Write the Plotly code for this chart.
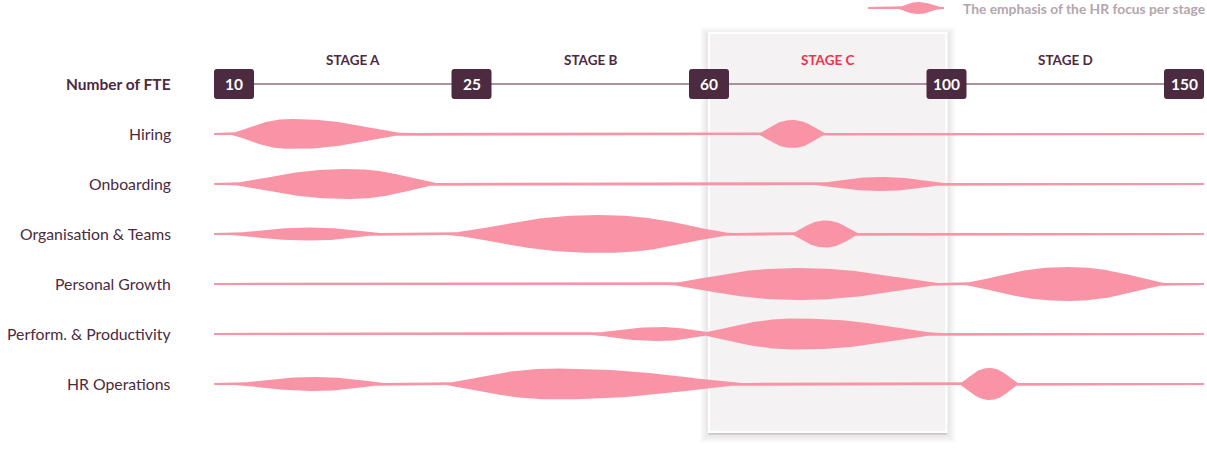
import numpy as np
import plotly.graph_objects as go

# ---------------- data ----------------
fte_ticks = ["10", "25", "60", "100", "150"]
stage_names = ["STAGE A", "STAGE B", "STAGE C", "STAGE D"]
highlight_stage = "STAGE C"
rows = ["Hiring", "Onboarding", "Organisation & Teams", "Personal Growth",
        "Perform. & Productivity", "HR Operations"]

# blobs per row, positions in stage units (0 = 10 FTE, 1 = 25, 2 = 60, 3 = 100, 4 = 150)
# each blob: (start, peak, end, emphasis)
hiring_blobs = [(-0.05, 0.24, 0.78, 0.30), (2.19, 2.35, 2.51, 0.28)]
onboarding_blobs = [(-0.08, 0.48, 0.91, 0.30), (2.40, 2.72, 3.05, 0.14)]
organisation_blobs = [(-0.08, 0.32, 0.67, 0.13), (0.82, 1.54, 2.17, 0.38), (2.33, 2.49, 2.65, 0.27)]
growth_blobs = [(1.76, 2.37, 3.06, 0.32), (3.01, 3.51, 3.98, 0.34)]
perform_blobs = [(1.45, 1.79, 2.06, 0.14), (1.90, 2.37, 3.05, 0.31)]
hrops_blobs = [(-0.06, 0.34, 0.69, 0.14), (0.82, 1.36, 2.26, 0.31), (3.04, 3.18, 3.32, 0.32)]
row_blobs = [hiring_blobs, onboarding_blobs, organisation_blobs, growth_blobs,
             perform_blobs, hrops_blobs]
legend_blob = [(2.78, 2.88, 2.99, 0.12)]
legend_text = "The emphasis of the HR focus per stage"

# ---------------- styling ----------------
PINK = "#F894A6"
PLUM = "#4C2A40"
AXIS_GREY = "#A8939F"
RED = "#F0304F"
FONT = "Lato"
PX_X = 237.5   # pixels per stage unit
PX_Y = 50.0    # pixels per row
X0_PX = 234.0
Y0_PX = 84.0
W, H = 1207, 456
LINE_HALF = 1.1 / PX_Y
LINE_START, LINE_END = -0.084, 4.084
FULLNESS = 0.45


def profile(xs, blobs):
    w = np.full_like(xs, LINE_HALF)
    for a, p, b, h in blobs:
        left = (xs >= a) & (xs <= p)
        right = (xs > p) & (xs <= b)
        s = np.zeros_like(xs)
        s[left] = (1 - np.cos(np.pi * (xs[left] - a) / (p - a))) / 2
        s[right] = (1 + np.cos(np.pi * (xs[right] - p) / (b - p))) / 2
        v = h * ((1 - FULLNESS) * s + FULLNESS * s * (2 - s))
        w = np.maximum(w, v)
    return w


fig = go.Figure()


def add_row(y, blobs, x_start, x_end):
    xs = np.linspace(x_start, x_end, 1400)
    w = profile(xs, blobs)
    fig.add_trace(go.Scatter(
        x=np.concatenate([xs, xs[::-1]]),
        y=np.concatenate([y - w, (y + w)[::-1]]),
        fill="toself", fillcolor=PINK, mode="lines", line=dict(width=0),
        hoverinfo="skip", showlegend=False))


for i, blobs in enumerate(row_blobs):
    add_row(i + 1, blobs, LINE_START, LINE_END)

# legend glyph
leg_y = (8 - Y0_PX) / PX_Y
add_row(leg_y, legend_blob, (868 - X0_PX) / PX_X, (944 - X0_PX) / PX_X)

shapes = []
# stage C panel with soft shadow
hi = stage_names.index(highlight_stage)
py0, py1 = (33 - Y0_PX) / PX_Y, (432 - Y0_PX) / PX_Y
for k in range(1, 10):
    dx = k / PX_X
    shapes.append(dict(type="rect", x0=hi - dx, x1=hi + 1 + dx,
                       y0=py0 - (k - 3) / PX_Y, y1=py1 + (k + 2) / PX_Y,
                       fillcolor="rgba(90,60,80,0.014)", line=dict(width=0),
                       layer="below"))
shapes.append(dict(type="rect", x0=hi, x1=hi + 1, y0=py0 + 1 / PX_Y, y1=py1 + 2.5 / PX_Y,
                   fillcolor="rgba(120,90,110,0.25)", line=dict(width=0),
                   layer="below"))
shapes.append(dict(type="rect", x0=hi, x1=hi + 1, y0=py0, y1=py1,
                   fillcolor="#F4F2F3", line=dict(color="white", width=2),
                   layer="below"))

# FTE axis line
shapes.append(dict(type="line", x0=0, x1=len(fte_ticks) - 1, y0=0, y1=0,
                   line=dict(color=AXIS_GREY, width=2), layer="above"))

box_path = ("M -17,-15 L 17,-15 Q 20,-15 20,-12 L 20,12 Q 20,15 17,15 "
            "L -17,15 Q -20,15 -20,12 L -20,-12 Q -20,-15 -17,-15 Z")
for i, t in enumerate(fte_ticks):
    shapes.append(dict(type="path", xsizemode="pixel", ysizemode="pixel",
                       xanchor=i, yanchor=0, path=box_path,
                       fillcolor=PLUM, line=dict(width=0), layer="above"))

annotations = []
for i, t in enumerate(fte_ticks):
    annotations.append(dict(x=i, y=0, text=t, showarrow=False,
                            xanchor="center", yanchor="middle",
                            font=dict(family=FONT, size=15.5, color="white", weight="bold")))
for i, s in enumerate(stage_names):
    annotations.append(dict(x=i + 0.5, y=(60 - Y0_PX) / PX_Y, text=s, showarrow=False,
                            xanchor="center", yanchor="middle",
                            font=dict(family=FONT, size=13.5,
                                      color=RED if s == highlight_stage else PLUM,
                                      weight="bold")))
label_x = (173 - X0_PX) / PX_X
annotations.append(dict(x=label_x, y=0, text="Number of FTE", showarrow=False,
                        xanchor="right", yanchor="middle",
                        font=dict(family=FONT, size=15.5, color=PLUM, weight="bold")))
for i, r in enumerate(rows):
    annotations.append(dict(x=label_x, y=i + 1 - 1 / PX_Y, text=r, showarrow=False,
                            xanchor="right", yanchor="middle",
                            font=dict(family=FONT, size=15.8, color=PLUM)))
annotations.append(dict(x=(961 - X0_PX) / PX_X, y=leg_y, text=legend_text,
                        showarrow=False, xanchor="left", yanchor="middle",
                        font=dict(family=FONT, size=13.8, color="#B3A6AE", weight="bold")))

fig.update_layout(
    width=W, height=H, margin=dict(l=0, r=0, t=0, b=0),
    paper_bgcolor="white", plot_bgcolor="white",
    xaxis=dict(range=[-X0_PX / PX_X, (W - X0_PX) / PX_X], visible=False, fixedrange=True),
    yaxis=dict(range=[(H - Y0_PX) / PX_Y, -Y0_PX / PX_Y], visible=False, fixedrange=True),
    shapes=shapes, annotations=annotations, showlegend=False,
)

fig.write_html("out.html")
